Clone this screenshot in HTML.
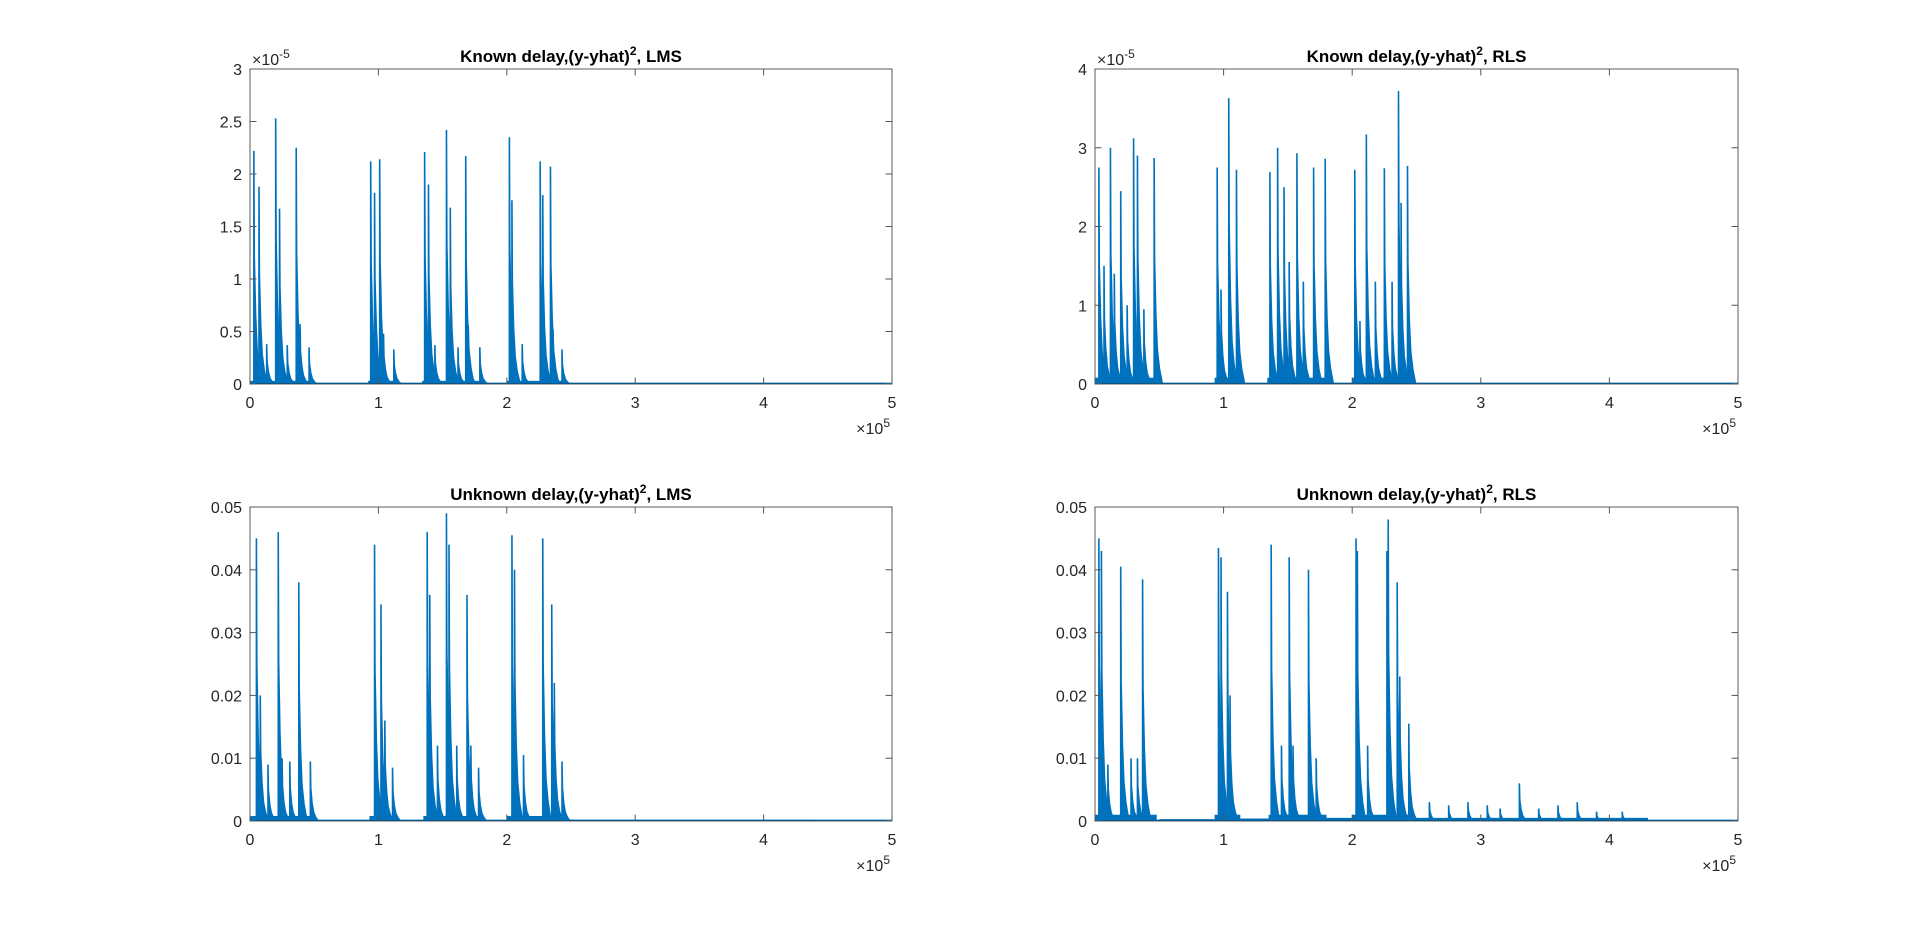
<!DOCTYPE html>
<html><head><meta charset="utf-8"><style>
body{margin:0;background:#fff;width:1920px;height:923px;overflow:hidden;font-family:"Liberation Sans",sans-serif}
svg text{font-family:"Liberation Sans",sans-serif}
</style></head><body>
<svg id="fig" width="1920" height="923" viewBox="0 0 1920 923" xmlns="http://www.w3.org/2000/svg"></svg>
<script>
// ---- data (x in units of 1e5 samples) ----
const p1X=[0.03,0.07,0.13,0.20,0.23,0.29,0.36,0.39,0.46,0.94,0.97,1.01,1.04,1.12,1.36,1.39,1.44,1.53,1.56,1.62,1.68,1.70,1.79,2.02,2.04,2.12,2.26,2.28,2.34,2.36,2.43];
const p1Y=[2.22,1.88,0.38,2.53,1.67,0.37,2.25,0.57,0.35,2.12,1.82,2.14,0.48,0.33,2.21,1.9,0.37,2.42,1.68,0.35,2.17,0.56,0.35,2.35,1.75,0.38,2.12,1.8,2.07,0.52,0.33];
const p1Bursts=[[0,0.47,0.03],[0.92,1.13,0.03],[1.34,1.8,0.03],[2.0,2.45,0.03]];
const p2X=[0.03,0.07,0.12,0.15,0.20,0.25,0.30,0.33,0.38,0.46,0.95,0.98,1.04,1.10,1.36,1.42,1.47,1.51,1.57,1.62,1.70,1.79,2.02,2.06,2.11,2.18,2.25,2.31,2.36,2.38,2.43];
const p2Y=[2.75,1.5,3.0,1.4,2.45,1.0,3.12,2.9,0.95,2.87,2.75,1.2,3.63,2.72,2.69,3.0,2.5,1.55,2.93,1.3,2.75,2.86,2.72,0.8,3.17,1.3,2.74,1.3,3.72,2.3,2.77];
const p2Bursts=[[0,0.5,0.08],[0.93,1.12,0.08],[1.34,1.8,0.08],[2.0,2.47,0.08]];
const p3X=[0.05,0.08,0.14,0.22,0.25,0.31,0.38,0.47,0.97,1.02,1.05,1.11,1.38,1.40,1.46,1.53,1.55,1.61,1.69,1.72,1.78,2.04,2.06,2.13,2.28,2.35,2.37,2.43];
const p3Y=[0.045,0.02,0.009,0.046,0.01,0.0095,0.038,0.0095,0.044,0.0345,0.016,0.0085,0.046,0.036,0.012,0.049,0.044,0.012,0.036,0.012,0.0085,0.0455,0.04,0.0105,0.045,0.0345,0.022,0.0095];
const p3Bursts=[[0,0.48,0.0008],[0.93,1.13,0.0008],[1.35,1.8,0.0008],[2.0,2.45,0.0008],[2.45,4.4,0.0002]];
const p4X=[0.03,0.05,0.10,0.20,0.28,0.33,0.37,0.96,0.98,1.03,1.05,1.37,1.45,1.51,1.54,1.66,1.72,2.03,2.04,2.12,2.27,2.28,2.35,2.37,2.44,2.6,2.75,2.9,3.05,3.15,3.3,3.45,3.6,3.75,3.9,4.1];
const p4Y=[0.045,0.043,0.009,0.0405,0.01,0.01,0.0385,0.0435,0.042,0.0365,0.02,0.044,0.012,0.042,0.012,0.04,0.01,0.045,0.043,0.012,0.043,0.048,0.038,0.023,0.0155,0.003,0.0025,0.003,0.0025,0.002,0.006,0.002,0.0025,0.003,0.0015,0.0015];
const p4Bursts=[[0,0.48,0.001],[0.5,0.93,0.0003],[0.93,1.13,0.001],[1.13,1.35,0.0004],[1.35,1.8,0.001],[1.8,2.0,0.0005],[2.0,2.47,0.001],[2.47,4.3,0.0005]];
const yTicks1=["0","0.5","1","1.5","2","2.5","3"];
const yTicks2=["0","1","2","3","4"];
const yTicks3=["0","0.01","0.02","0.03","0.04","0.05"];
const xTicks=["0","1","2","3","4","5"];

const NS="http://www.w3.org/2000/svg";
const svg=document.getElementById('fig');
function mk(tag,attrs,parent){const e=document.createElementNS(NS,tag);for(const k in attrs)e.setAttribute(k,attrs[k]);(parent||svg).appendChild(e);return e;}

function panel(id,L,T,R,B,title,X,Y,bursts,yTicks,ymax,expY){
  const g=mk('g',{});
  
  
  const sx=v=>L+(v/5)*(R-L), sy=v=>B-(v/ymax)*(B-T);
  mk('rect',{x:L,y:T,width:R-L,height:B-T,fill:'#fff'},g);
  bursts.forEach(b=>{
    const r=mk('rect',{x:sx(b[0]),y:sy(b[2]),width:sx(b[1])-sx(b[0]),height:B-sy(b[2]),fill:'#0072BD'},g);
    
    
  });
  mk('line',{x1:L,y1:B-0.7,x2:R,y2:B-0.7,stroke:'#0072BD','stroke-width':1.4},g);
  X.forEach((x,i)=>{
    const px=sx(x), h=Y[i];
    const d=`M${px-0.8},${B} L${px-0.8},${sy(h)} L${px+0.8},${sy(h)} L${px+1.2},${sy(h*0.55)} L${px+2.5},${sy(h*0.3)} L${px+4},${sy(h*0.15)} L${px+6},${sy(h*0.07)} L${px+9},${B} Z`;
    const p=mk('path',{d:d,fill:'#0072BD'},g);
    
    
  });
  mk('rect',{x:L,y:T,width:R-L,height:B-T,fill:'none',stroke:'#262626','stroke-opacity':0.75,'stroke-width':1},g);
  const tl=6.5;
  xTicks.forEach((t,i)=>{
    const x=sx(+t);
    mk('line',{x1:x,y1:B,x2:x,y2:B-tl,stroke:'#555'},g);
    mk('line',{x1:x,y1:T,x2:x,y2:T+tl,stroke:'#555'},g);
    const tx=mk('text',{x:x,y:B+24,'text-anchor':'middle','font-size':16,fill:'#262626'},g);
    tx.textContent=t;
    
    
  });
  yTicks.forEach((t,i)=>{
    const y=sy(+t);
    mk('line',{x1:L,y1:y,x2:L+tl,y2:y,stroke:'#555'},g);
    mk('line',{x1:R,y1:y,x2:R-tl,y2:y,stroke:'#555'},g);
    const tx=mk('text',{x:L-8,y:y+6,'text-anchor':'end','font-size':16,fill:'#262626'},g);
    tx.textContent=t;
    
    
  });
  const tt=mk('text',{x:(L+R)/2,y:T-7,'text-anchor':'middle','font-size':17,'font-weight':'bold',fill:'#000'},g);
  
  
  tt.innerHTML=title;
  if(expY){
    const e=mk('text',{x:L+2,y:T-4,'font-size':16,fill:'#262626'},g);
    
    
    e.innerHTML='×10<tspan dy="-7" font-size="12">-5</tspan>';
  }
  const ex=mk('text',{x:R-2,y:B+50,'text-anchor':'end','font-size':16,fill:'#262626'},g);
  
  
  ex.innerHTML='×10<tspan dy="-7" font-size="12">5</tspan>';
}
const sup='<tspan dy="-7" font-size="12">2</tspan><tspan dy="7">, ';
panel('panel-known-lms',250,69,892,384,'Known delay,(y-yhat)'+sup+'LMS</tspan>',p1X,p1Y,p1Bursts,yTicks1,3,true);
panel('panel-known-rls',1095,69,1738,384,'Known delay,(y-yhat)'+sup+'RLS</tspan>',p2X,p2Y,p2Bursts,yTicks2,4,true);
panel('panel-unknown-lms',250,507,892,821,'Unknown delay,(y-yhat)'+sup+'LMS</tspan>',p3X,p3Y,p3Bursts,yTicks3,0.05,false);
panel('panel-unknown-rls',1095,507,1738,821,'Unknown delay,(y-yhat)'+sup+'RLS</tspan>',p4X,p4Y,p4Bursts,yTicks3,0.05,false);
</script>
</body></html>
